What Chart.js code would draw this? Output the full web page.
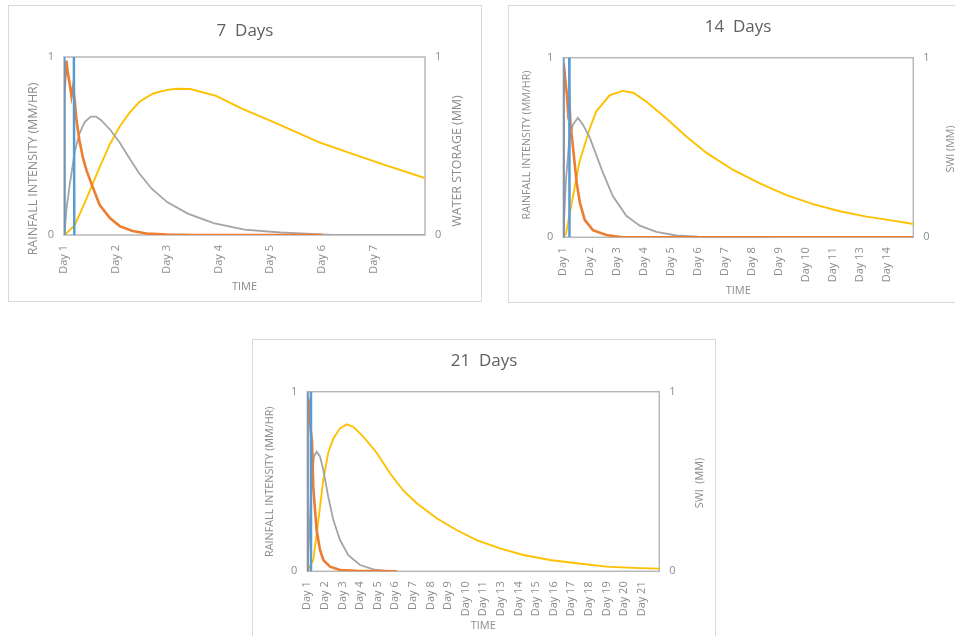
<!DOCTYPE html>
<html>
<head>
<meta charset="utf-8">
<script src="https://cdn.jsdelivr.net/npm/chart.js@4.4.0/dist/chart.umd.min.js"></script>
<style>
  body { margin: 0; background: #fff; width: 955px; height: 636px; overflow: hidden; position: relative; }
  .panel { position: absolute; border: 1px solid #d9d9d9; background: #fff; }
  .panel canvas { display: block; }
</style>
</head>
<body>
<div class="panel" style="left:8px;top:5px;width:472px;height:295px"><canvas id="c7" width="472" height="295"></canvas></div>
<div class="panel" style="left:508px;top:5px;width:458px;height:296px"><canvas id="c14" width="458" height="296"></canvas></div>
<div class="panel" style="left:252px;top:339px;width:462px;height:300px"><canvas id="c21" width="462" height="300"></canvas></div>
<script>
// ---- tick labels (note: Day 12 is missing in the original axes) ----
const labels7 = ['Day 1', 'Day 2', 'Day 3', 'Day 4', 'Day 5', 'Day 6', 'Day 7'];
const labels14 = ['Day 1', 'Day 2', 'Day 3', 'Day 4', 'Day 5', 'Day 6', 'Day 7', 'Day 8', 'Day 9', 'Day 10', 'Day 11', 'Day 13', 'Day 14'];
const labels21 = ['Day 1', 'Day 2', 'Day 3', 'Day 4', 'Day 5', 'Day 6', 'Day 7', 'Day 8', 'Day 9', 'Day 10', 'Day 11', 'Day 13', 'Day 14', 'Day 15', 'Day 16', 'Day 17', 'Day 18', 'Day 19', 'Day 20', 'Day 21'];

// ---- 7 days: [time in days, value] ----
// rainfall pulse runs off the top of the axis, so it is clipped at 1
const blue7 = [[0, 0], [0.005, 1.2], [0.19, 1.2], [0.2, 0]];
const orange7 = [[0, 0], [0.005, 0.8], [0.045, 0.98], [0.08, 0.9], [0.11, 0.85], [0.145, 0.78], [0.175, 0.83], [0.21, 0.75], [0.24, 0.65], [0.3, 0.53], [0.37, 0.43], [0.44, 0.36], [0.53, 0.29], [0.69, 0.17], [0.89, 0.095], [1.08, 0.05], [1.33, 0.022], [1.6, 0.008], [2.0, 0.003], [2.5, 0], [5.0, 0]];
const gray7 = [[0, 0], [0.015, 0.03], [0.05, 0.15], [0.11, 0.28], [0.21, 0.47], [0.3, 0.57], [0.4, 0.635], [0.52, 0.665], [0.62, 0.665], [0.72, 0.645], [0.9, 0.59], [1.08, 0.52], [1.25, 0.44], [1.45, 0.35], [1.7, 0.26], [2.0, 0.185], [2.4, 0.12], [2.9, 0.067], [3.5, 0.03], [4.2, 0.014], [5.0, 0.004], [5.2, 0], [7, 0]];
const yellow7 = [[0, 0], [0.05, 0.01], [0.21, 0.055], [0.43, 0.2], [0.69, 0.38], [0.89, 0.51], [1.08, 0.61], [1.28, 0.69], [1.47, 0.75], [1.73, 0.795], [2.0, 0.815], [2.2, 0.822], [2.45, 0.82], [2.95, 0.782], [3.45, 0.71], [4.1, 0.63], [4.95, 0.52], [5.55, 0.46], [6.2, 0.395], [7.0, 0.32]];

// ---- 14 days ----
const blue14 = [[0, 0], [0.005, 1.2], [0.22, 1.2], [0.23, 0]];
const orange14 = [[0, 0], [0.005, 0.97], [0.03, 0.95], [0.08, 0.87], [0.13, 0.8], [0.17, 0.71], [0.22, 0.76], [0.27, 0.63], [0.37, 0.485], [0.5, 0.3], [0.62, 0.19], [0.8, 0.096], [1.1, 0.04], [1.6, 0.013], [2.2, 0], [13, 0]];
const gray14 = [[0, 0], [0.03, 0.1], [0.1, 0.32], [0.22, 0.54], [0.35, 0.625], [0.54, 0.665], [0.72, 0.63], [0.97, 0.56], [1.22, 0.46], [1.47, 0.36], [1.84, 0.23], [2.34, 0.12], [2.84, 0.065], [3.46, 0.03], [4.2, 0.01], [5.0, 0.003], [5.6, 0], [7.8, 0]];
const yellow14 = [[0, 0], [0.1, 0.02], [0.35, 0.22], [0.6, 0.42], [0.97, 0.6], [1.22, 0.7], [1.72, 0.79], [2.2, 0.815], [2.6, 0.805], [3.09, 0.755], [3.84, 0.66], [4.58, 0.56], [5.32, 0.47], [6.31, 0.375], [7.3, 0.3], [8.29, 0.235], [9.28, 0.185], [10.27, 0.145], [11.26, 0.115], [12.25, 0.093], [13, 0.074]];

// ---- 21 days ----
const blue21 = [[0, 0], [0.005, 1.2], [0.2, 1.2], [0.21, 0]];
const orange21 = [[0, 0], [0.005, 0.98], [0.1, 0.935], [0.19, 0.79], [0.27, 0.72], [0.34, 0.47], [0.44, 0.34], [0.53, 0.23], [0.72, 0.12], [0.91, 0.063], [1.29, 0.026], [1.86, 0.007], [2.8, 0.003], [5.08, 0]];
const gray21 = [[0, 0], [0.05, 0.1], [0.15, 0.285], [0.25, 0.51], [0.38, 0.64], [0.53, 0.666], [0.72, 0.64], [0.91, 0.564], [1.19, 0.415], [1.48, 0.285], [1.86, 0.174], [2.33, 0.09], [3.0, 0.035], [3.75, 0.011], [4.5, 0.002], [5.08, 0]];
const yellow21 = [[0, 0], [0.34, 0.063], [0.63, 0.285], [0.91, 0.51], [1.19, 0.66], [1.48, 0.74], [1.86, 0.796], [2.24, 0.818], [2.61, 0.805], [3.18, 0.75], [3.94, 0.66], [4.7, 0.546], [5.45, 0.45], [6.2, 0.38], [7.35, 0.295], [8.48, 0.23], [9.62, 0.174], [10.95, 0.128], [12.27, 0.091], [13.79, 0.063], [15.3, 0.045], [17.0, 0.026], [18.5, 0.019], [20, 0.015]];

const FONT = "'Open Sans', 'Liberation Sans', sans-serif";
const AXIS_TEXT = '#8c8c8c';

// draws the grey box round the plot area
const plotFrame = {
  id: 'plotFrame',
  beforeDatasetsDraw(chart) {
    const { ctx, chartArea: a } = chart;
    ctx.save();
    ctx.strokeStyle = '#b8b8b8';
    ctx.lineWidth = 1.5;
    ctx.strokeRect(a.left, a.top, a.right - a.left, a.bottom - a.top);
    ctx.restore();
  }
};

// vertical axis titles, both reading bottom to top like the original
const axisTitles = {
  id: 'axisTitles',
  afterDraw(chart, args, opts) {
    const ctx = chart.ctx;
    ctx.save();
    ctx.fillStyle = AXIS_TEXT;
    ctx.font = opts.size + 'px ' + FONT;
    ctx.textAlign = 'center';
    ctx.textBaseline = 'middle';
    for (const t of opts.items) {
      ctx.save();
      ctx.translate(t.x, t.y);
      ctx.rotate(-Math.PI / 2);
      ctx.fillText(t.text, 0, 0);
      ctx.restore();
    }
    ctx.restore();
  }
};

function makeChart(id, L, title, labels, blue, orange, gray, yellow, rightTitle) {
  const line = (data, color, width, axis) => ({
    data, borderColor: color, borderWidth: width, pointRadius: 0, tension: 0, yAxisID: axis, clip: 0
  });
  const yAxis = (pos, w) => ({
    position: pos, min: 0, max: 1,
    grid: { display: false, drawTicks: false }, border: { display: false },
    ticks: { stepSize: 1, padding: 10, color: AXIS_TEXT, font: { family: FONT, size: 11 } },
    afterFit: s => { s.width = w; }
  });
  new Chart(document.getElementById(id), {
    type: 'line',
    data: {
      datasets: [
        line(blue, '#5B9BD5', 2.5, 'y'),
        line(orange, '#ED7D31', 2.6, 'y'),
        line(gray, '#A5A5A5', 1.8, 'y'),
        line(yellow, '#FFC000', 1.9, 'y2')
      ]
    },
    options: {
      responsive: false,
      animation: false,
      layout: { padding: 0 },
      plugins: {
        legend: { display: false },
        tooltip: { enabled: false },
        title: {
          display: true, text: title, color: '#606060',
          font: { family: FONT, size: 17, weight: 'normal', lineHeight: 1.2 },
          padding: { top: L.titleTop, bottom: L.top - L.titleTop - 20.4 }
        },
        axisTitles: {
          size: L.titleSize,
          items: [
            { text: 'RAINFALL INTENSITY (MM/HR)', x: L.yTitle[0], y: L.yTitle[1] },
            { text: rightTitle, x: L.y2Title[0], y: L.y2Title[1] }
          ]
        }
      },
      scales: {
        x: {
          type: 'linear', min: 0, max: labels.length,
          grid: { display: false, drawTicks: false }, border: { display: false },
          ticks: {
            stepSize: 1, autoSkip: false, minRotation: 90, maxRotation: 90, padding: 10,
            color: AXIS_TEXT, font: { family: FONT, size: 11 },
            callback: v => (Number.isInteger(v) && labels[v]) ? labels[v] : ''
          },
          title: {
            display: true, text: 'TIME', color: AXIS_TEXT,
            font: { family: FONT, size: 11 },
            padding: { top: 0, bottom: L.timeOffset - 6.6 }
          },
          afterFit: s => { s.height = L.h - L.bottom; }
        },
        y: yAxis('left', L.left),
        y2: yAxis('right', L.w - L.right)
      }
    },
    plugins: [plotFrame, axisTitles]
  });
}

makeChart('c7',
  { w: 472, h: 295, left: 55, right: 416, top: 51, bottom: 229, titleTop: 14.5, timeOffset: 14, titleSize: 12.4, yTitle: [24, 163], y2Title: [448, 155] },
  '7  Days', labels7, blue7, orange7, gray7, yellow7, 'WATER STORAGE (MM)');

makeChart('c14',
  { w: 458, h: 296, left: 54.3, right: 404.3, top: 51.7, bottom: 231.3, titleTop: 10.5, timeOffset: 11, titleSize: 10.7, yTitle: [17.7, 139], y2Title: [441.7, 143] },
  '14  Days', labels14, blue14, orange14, gray14, yellow14, 'SWI (MM)');

makeChart('c21',
  { w: 462, h: 300, left: 54.3, right: 406.3, top: 51.7, bottom: 231.3, titleTop: 10.8, timeOffset: 14.3, titleSize: 10.8, yTitle: [17, 141.7], y2Title: [447, 143] },
  '21  Days', labels21, blue21, orange21, gray21, yellow21, 'SWI  (MM)');
</script>
</body>
</html>
